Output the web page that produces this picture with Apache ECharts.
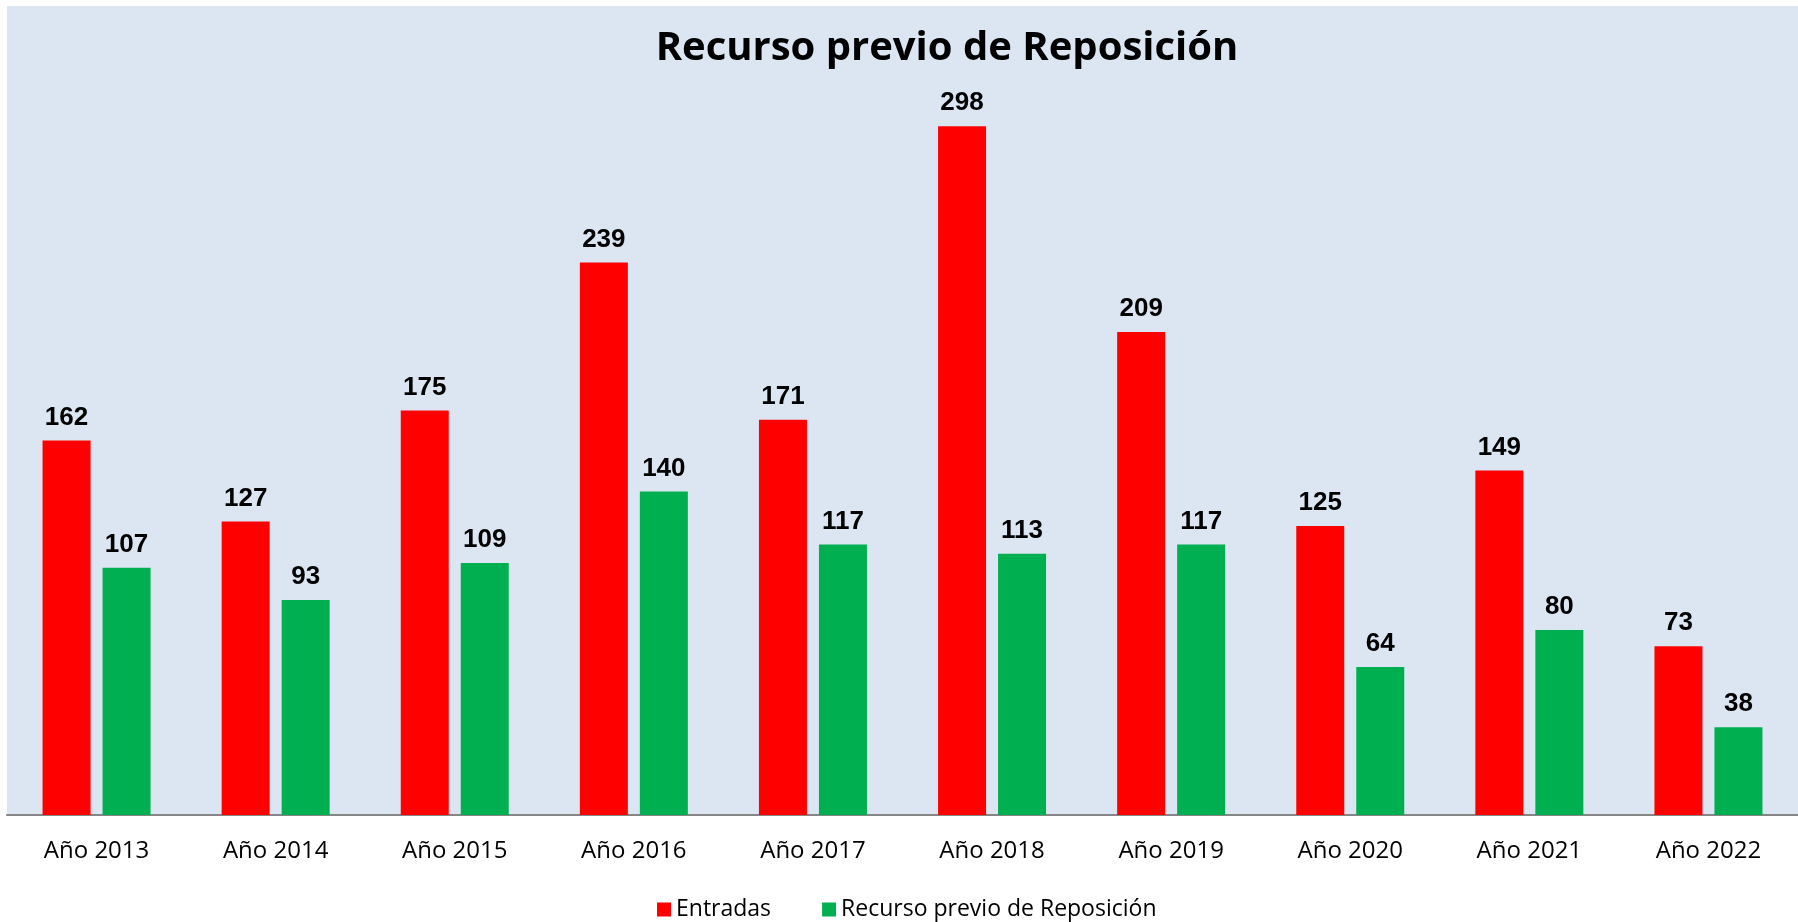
<!DOCTYPE html>
<html lang="es">
<head>
    <meta charset="UTF-8">
    <title>Recurso previo de Reposición</title>
    <script src="https://cdn.jsdelivr.net/npm/echarts@6/dist/echarts.min.js"></script>
    <style>
        html, body { margin: 0; padding: 0; background: #ffffff; }
        #chart { width: 1798px; height: 922px; }
    </style>
</head>
<body>
    <div id="chart"></div>
    <script>
        // datos
        const years = ['Año 2013', 'Año 2014', 'Año 2015', 'Año 2016', 'Año 2017',
                       'Año 2018', 'Año 2019', 'Año 2020', 'Año 2021', 'Año 2022'];
        const entradas = [162, 127, 175, 239, 171, 298, 209, 125, 149, 73];
        const recurso = [107, 93, 109, 140, 117, 113, 117, 64, 80, 38];

        const myChart = echarts.init(document.getElementById('chart'));

        const labelStyle = {
            show: true,
            position: 'top',
            distance: 10,
            color: '#000000',
            fontFamily: 'Liberation Sans, Arial, sans-serif',
            fontWeight: 'bold',
            fontSize: 26
        };

        const option = {
            animation: false,
            backgroundColor: '#ffffff',
            title: {
                text: 'Recurso previo de Reposición',
                left: 942,
                textAlign: 'center',
                top: 24,
                textStyle: {
                    fontFamily: 'Open Sans, sans-serif',
                    fontWeight: 'bold',
                    fontSize: 40,
                    color: '#000000'
                }
            },
            legend: {
                top: 893,
                left: 652,
                itemWidth: 14,
                itemHeight: 14,
                itemGap: 51,
                icon: 'rect',
                textStyle: {
                    fontFamily: 'Open Sans, sans-serif',
                    fontSize: 23,
                    color: '#000000'
                },
                data: ['Entradas', 'Recurso previo de Reposición']
            },
            grid: {
                left: 7,
                right: 0,
                top: 6,
                bottom: 107,
                show: true,
                backgroundColor: '#dce6f2',
                borderWidth: 0
            },
            xAxis: {
                type: 'category',
                data: years,
                axisLine: { lineStyle: { color: '#868686', width: 2 } },
                axisTick: { show: false },
                axisLabel: {
                    margin: 24,
                    fontFamily: 'Open Sans, sans-serif',
                    fontSize: 24,
                    color: '#000000'
                }
            },
            yAxis: {
                type: 'value',
                min: 0,
                max: 350,
                show: false,
                splitLine: { show: false }
            },
            series: [
                {
                    name: 'Entradas',
                    type: 'bar',
                    data: entradas,
                    barWidth: 48,
                    barGap: '25%',
                    itemStyle: { color: '#ff0000' },
                    label: labelStyle
                },
                {
                    name: 'Recurso previo de Reposición',
                    type: 'bar',
                    data: recurso,
                    barWidth: 48,
                    barGap: '25%',
                    itemStyle: { color: '#00b050' },
                    label: labelStyle
                }
            ]
        };

        myChart.setOption(option);
    </script>
</body>
</html>
